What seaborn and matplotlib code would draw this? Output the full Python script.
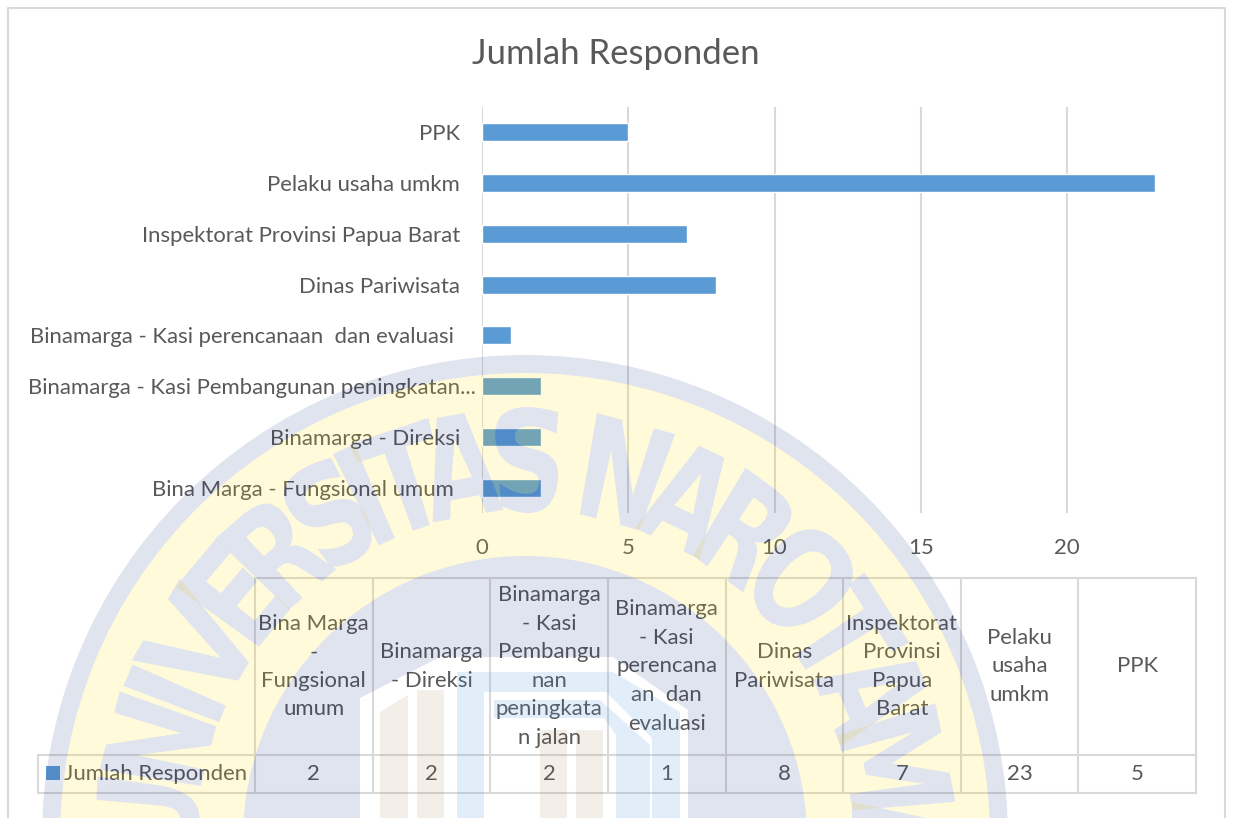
import matplotlib
matplotlib.use("Agg")
import matplotlib.pyplot as plt
import numpy as np
import pandas as pd
import seaborn as sns
from matplotlib.font_manager import FontProperties
from matplotlib.patches import PathPatch, Rectangle
from matplotlib.path import Path
from matplotlib.textpath import TextPath
from matplotlib.transforms import Affine2D

title = "Jumlah Responden"
series_name = "Jumlah Responden"
categories = ["PPK", "Pelaku usaha umkm", "Inspektorat Provinsi Papua Barat", "Dinas Pariwisata",
              "Binamarga - Kasi perencanaan  dan evaluasi", "Binamarga - Kasi Pembangunan peningkatan...",
              "Binamarga - Direksi", "Bina Marga - Fungsional umum"]
values = [5, 23, 7, 8, 1, 2, 2, 2]
label_pads = [22, 22, 22, 22, 28, 6, 22, 28]
table_headers = ["Bina Marga\n-\nFungsional\numum", "Binamarga\n- Direksi",
                 "Binamarga\n- Kasi\nPembangu\nnan\npeningkata\nn jalan",
                 "Binamarga\n- Kasi\nperencana\nan  dan\nevaluasi", "Dinas\nPariwisata",
                 "Inspektorat\nProvinsi\nPapua\nBarat", "Pelaku\nusaha\numkm", "PPK"]
table_values = [2, 2, 2, 1, 8, 7, 23, 5]
x_ticks = [0, 5, 10, 15, 20]
wm_letters = list("UNIVERSITAS") + list("NAROTAMA")
wm_angles = [-87, -75.5, -67.7, -59.4, -50, -40.5, -31, -25, -18.5, -10, 0.5,
             15, 25.8, 36.2, 47, 57.5, 67.5, 78.5, 90]

W, H = 1234, 818
TXT = "#595959"
GRID = "#D9D9D9"
BAR = "#5B9BD5"
FS = 15.9
sns.set_theme(style="white")
plt.rcParams["font.family"] = ["Lato", "DejaVu Sans"]

fig = plt.figure(figsize=(W / 100, H / 100), dpi=100, facecolor="white")

def axes_px(l, t, r, b):
    return fig.add_axes([l / W, 1 - b / H, (r - l) / W, (b - t) / H])

# main bars
ax = axes_px(482, 107, 1196, 513)
df = pd.DataFrame({"cat": categories, "val": values})
sns.barplot(data=df, y="cat", x="val", orient="h", color=BAR, saturation=1, width=0.354, ax=ax)
ax.set_xlim(0, (1196 - 482) / 29.25)
ax.set_xlabel(""); ax.set_ylabel("")
ax.set_xticks(x_ticks)
ax.grid(axis="x", color=GRID, lw=1.5); ax.grid(axis="y", visible=False)
ax.set_axisbelow(True)
for s in ax.spines.values():
    s.set_visible(False)
ax.tick_params(axis="x", length=0, pad=18, labelsize=FS, labelcolor=TXT)
ax.tick_params(axis="y", length=0, labelsize=FS, labelcolor=TXT)
for t, p in zip(ax.yaxis.get_major_ticks(), label_pads):
    t.set_pad(p * 0.72)

# page-level axes for the frame, title and table, in pixels
pg = fig.add_axes([0, 0, 1, 1], zorder=2)
pg.set_xlim(0, W); pg.set_ylim(H, 0); pg.axis("off"); pg.patch.set_alpha(0)
pg.plot([8, 8, 1225, 1225], [818, 8, 8, 818], color=GRID, lw=1.5)
pg.text(616, 54, title, ha="center", va="center", fontsize=25, color=TXT)

xl, x0, x1 = 38, 255, 1196
yt, ym, yb = 578, 755, 793
n = len(table_values)
cw = (x1 - x0) / n
for i in range(n + 1):
    pg.plot([x0 + i * cw] * 2, [yt, yb], color=GRID, lw=1.5)
pg.plot([x0, x1], [yt, yt], color=GRID, lw=1.5)
pg.plot([xl, x1], [ym, ym], color=GRID, lw=1.5)
pg.plot([xl, x1], [yb, yb], color=GRID, lw=1.5)
pg.plot([xl, xl], [ym, yb], color=GRID, lw=1.5)
for i, (h, v) in enumerate(zip(table_headers, table_values)):
    cx = x0 + (i + .5) * cw
    pg.text(cx, (yt + ym) / 2, h, ha="center", va="center", fontsize=FS, color=TXT, linespacing=1.54)
    pg.text(cx, (ym + yb) / 2, str(v), ha="center", va="center", fontsize=FS, color=TXT)
pg.add_patch(Rectangle((46, 766), 14, 14, color=BAR, lw=0))
pg.text(64, (ym + yb) / 2, series_name, ha="left", va="center", fontsize=FS, color=TXT)

# watermark laid over everything
wm = fig.add_axes([0, 0, 1, 1], zorder=5)
wm.set_xlim(0, W); wm.set_ylim(0, H); wm.axis("off"); wm.patch.set_alpha(0)
NAVY = (15 / 255, 40 / 255, 125 / 255)
YEL = (1, 222 / 255, 0)
CX, CY = 525, 818 - 838
RT = 378

def circle(r, reverse=False):
    p = Path.arc(0, 360)
    v = p.vertices * r + (CX, CY)
    return Path(v[::-1] if reverse else v, p.codes)

def annulus(ro, ri):
    return Path.make_compound_path(circle(ro), circle(ri, True))

def poly(px):
    return Path([(x, H - y) for x, y in px] + [(px[0][0], H - px[0][1])])

fp = FontProperties(family="Liberation Sans Narrow", weight="bold")
glyphs = []
for ch, ang in zip(wm_letters, wm_angles):
    tp = TextPath((0, 0), ch, size=140, prop=fp)
    bb = tp.get_extents()
    v = tp.vertices - ((bb.x0 + bb.x1) / 2, (bb.y0 + bb.y1) / 2)
    # letters widen with the radius so that neighbours stay apart at their feet
    v = np.column_stack([v[:, 0] * 0.78 * (RT + v[:, 1]) / RT, v[:, 1]])
    a = np.radians(ang)
    tr = Affine2D().rotate(-a).translate(CX + RT * np.sin(a), CY + RT * np.cos(a))
    glyphs.append(Path(tr.transform(v), tp.codes))
letters = Path.make_compound_path(*glyphs)

def add(path, c, a):
    wm.add_patch(PathPatch(path, facecolor=c, edgecolor="none", alpha=a, lw=0))

add(annulus(483, 465), NAVY, .125)
add(Path.make_compound_path(annulus(465, 282), letters), YEL, .15)
add(letters, NAVY, .125)
# inner disc with the white dome cut out (opposite winding to the disc)
dome = poly([(360, 698), (440, 657), (613, 657), (688, 710), (688, 830), (360, 830)])
add(Path.make_compound_path(circle(282), dome), NAVY, .125)

BEIGE = (150 / 255, 110 / 255, 50 / 255)
for px in ([(380, 818), (380, 712), (408, 695), (408, 818)],
           [(417, 818), (417, 690), (444, 690), (444, 818)],
           [(540, 818), (540, 730), (567, 730), (567, 818)],
           [(576, 818), (576, 730), (603, 730), (603, 818)]):
    add(poly(px), BEIGE, .11)
LB = (60 / 255, 140 / 255, 210 / 255)
for px in ([(457, 818), (457, 672), (613, 672), (680, 712), (680, 818), (652, 818), (652, 738),
            (606, 692), (484, 692), (484, 818)],
           [(494, 700), (600, 700), (650, 745), (650, 818), (616, 818), (616, 735), (604, 718), (494, 718)]):
    add(poly(px), LB, .15)

fig.savefig("out.png", dpi=100)
